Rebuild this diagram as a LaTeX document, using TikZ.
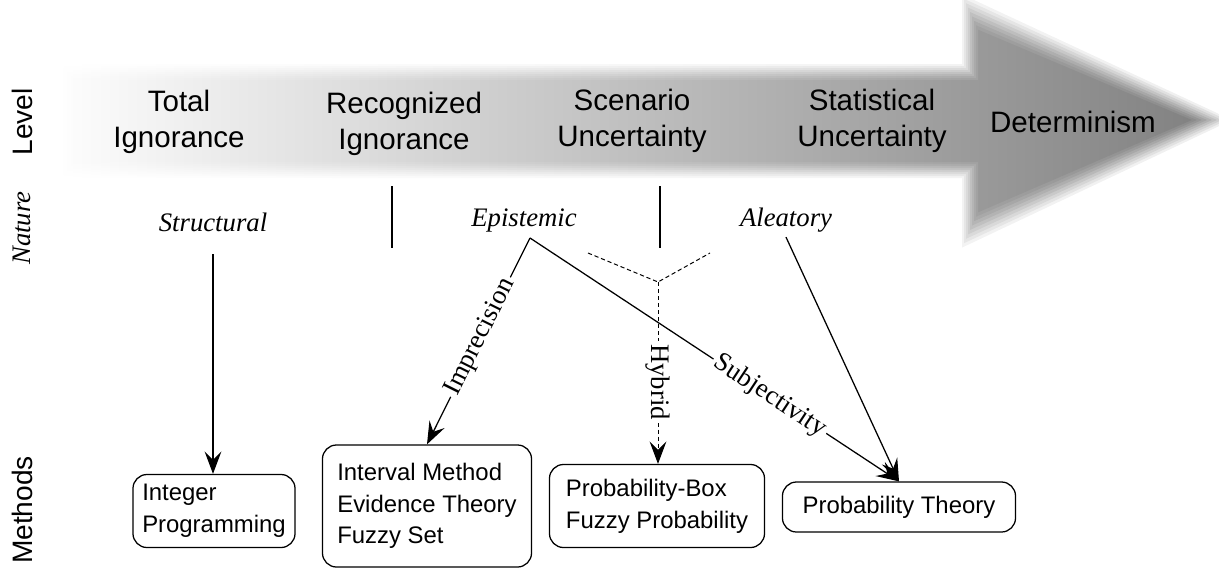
\documentclass[tikz,border=0pt]{standalone}
\usepackage{fontspec}
\setmainfont{Liberation Serif}
\setsansfont{Liberation Sans}
\usetikzlibrary{arrows.meta}

\tikzset{
  levellabel/.style={font=\sffamily\fontsize{21}{26}\selectfont, align=center},
  sidelabel/.style={rotate=90, font=\sffamily\fontsize{20}{24}\selectfont},
  naturelabel/.style={font=\itshape\fontsize{19}{23}\selectfont},
  methodbox/.style={draw, line width=0.9pt, rounded corners=10pt, align=left,
    font=\sffamily\fontsize{17}{22.5}\selectfont},
  linklabel/.style={font=\fontsize{19}{23}\selectfont, fill=white, inner sep=2pt},
  conn/.style={line width=0.9pt, -{Stealth[length=16pt,width=12pt,inset=6pt]}},
  hybridline/.style={line width=0.7pt, dash pattern=on 3pt off 2pt},
}

\begin{document}
\begin{tikzpicture}[x=0.025cm, y=-0.025cm]
\useasboundingbox (0,0) rectangle (1219,568);

% shaded level arrow, soft edge from stacked layers
\foreach \d/\op in {-8/0.12, -6/0.14, -4/0.16, -2/0.2, 0/0.25, 2/0.3, 4/0.4, 6/0.5, 8/1} {
  \begin{scope}
    \clip (67+\d,72+\d) -- (970+\d,72+\d) -- (970+\d,12+2.2*\d) -- (1212-2.5*\d,120)
      -- (970+\d,230-2.2*\d) -- (970+\d,170-\d) -- (67+\d,170-\d) -- cycle;
    \shade[left color=white, right color=black!50, opacity=\op] (40,-20) rectangle (1219,260);
  \end{scope}
}

\node[levellabel] (total) at (179,122) {Total\\Ignorance};
\node[levellabel] (recog) at (404,124) {Recognized\\Ignorance};
\node[levellabel] (scen) at (632,121) {Scenario\\Uncertainty};
\node[levellabel] (stat) at (872,121) {Statistical\\Uncertainty};
\node[levellabel] (determ) at (1073,122) {Determinism};

\node[sidelabel] (level) at (22,122) {Level};
\node[naturelabel, rotate=90] (nature) at (22,228) {Nature};
\node[sidelabel] (methods) at (22,510) {Methods};

\node[naturelabel] (struct) at (213,222) {Structural};
\node[naturelabel] (epis) at (524,220) {Epistemic};
\node[naturelabel] (alea) at (786,220) {Aleatory};

\draw[line width=0.9pt] (392,186) -- (392,248);
\draw[line width=0.9pt] (660,186) -- (660,248);

\node[methodbox, minimum width=4.05cm, minimum height=1.825cm] (intprog) at (214,511) {Integer\\Programming};
\node[methodbox, minimum width=5.225cm, minimum height=3.05cm] (interval) at (427,506) {Interval Method\\Evidence Theory\\Fuzzy Set};
\node[methodbox, minimum width=5.375cm, minimum height=2.075cm] (pbox) at (657,506) {Probability-Box\\Fuzzy Probability};
\node[methodbox, minimum width=5.825cm, minimum height=1.25cm] (probth) at (899,507) {Probability Theory};

\coordinate (structtop) at (213,254);
\draw[conn] (structtop) -- (intprog.north -| structtop);

\coordinate (episapex) at (530,238);
\coordinate (hyjoin) at (658,282);
\coordinate (hyleft) at (588,253);
\coordinate (hyright) at (710,253);

\draw[hybridline] (hyleft) -- (hyjoin) -- (hyright);
\draw[conn, hybridline] (hyjoin) -- node[linklabel, rotate=-90, pos=0.55] (hybrid) {Hybrid} (pbox.north -| hyjoin);

\draw[conn] (episapex) -- node[linklabel, sloped, pos=0.48] (imprec) {Imprecision} (interval.north);
\draw[conn] (episapex) -- node[linklabel, sloped, pos=0.65] (subj) {Subjectivity} (probth.north);
\draw[conn] (alea.south) -- (probth.north);
\end{tikzpicture}
\end{document}
